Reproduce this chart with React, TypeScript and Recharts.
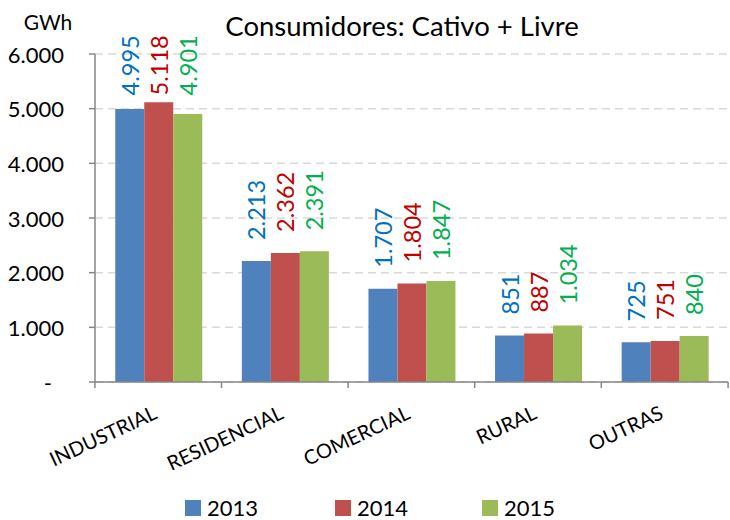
import React from 'react';
import { BarChart, Bar, XAxis, YAxis, CartesianGrid, Legend, LabelList } from 'recharts';

const categories = ['INDUSTRIAL', 'RESIDENCIAL', 'COMERCIAL', 'RURAL', 'OUTRAS'];
const values2013 = [4995, 2213, 1707, 851, 725];
const values2014 = [5118, 2362, 1804, 887, 751];
const values2015 = [4901, 2391, 1847, 1034, 840];
const yTicks = [0, 1000, 2000, 3000, 4000, 5000, 6000];
const seriesNames = ['2013', '2014', '2015'];

const data = categories.map((c, i) => ({
  name: c,
  s2013: values2013[i],
  s2014: values2014[i],
  s2015: values2015[i],
}));

const FONT = 'Lato, "Open Sans", sans-serif';
const fmt = (v: number) => (v === 0 ? '-' : v.toLocaleString('de-DE'));

const barColors = ['#4F81BD', '#C0504D', '#9BBB59'];
const labelColors = ['#0070C0', '#C00000', '#00B050'];

const makeLabel = (color: string) => (props: any) => {
  const { x, y, width, value } = props;
  const cx = x + width / 2;
  const text = fmt(value);
  const fs = 23.5;
  let estLen = 0;
  for (const ch of text) estLen += ch === '.' ? fs * 0.25 : fs * 0.58;
  let ay = y - 21;
  if (ay - estLen < 35) ay = 35 + estLen;
  return (
    <text
      x={cx}
      y={ay}
      transform={`rotate(-90, ${cx}, ${ay})`}
      textAnchor="start"
      dominantBaseline="central"
      fill={color}
      fontSize={fs}
      fontFamily={FONT}
    >
      {text}
    </text>
  );
};

const YTick = (props: any) => {
  const { x, y, payload } = props;
  const v = payload.value;
  return (
    <text
      x={v === 0 ? x - 12 : x}
      y={y}
      textAnchor="end"
      dominantBaseline="central"
      fill="#000"
      fontSize={22}
      fontFamily={FONT}
    >
      {fmt(v)}
    </text>
  );
};

const XTick = (props: any) => {
  const { x, y, payload, index } = props;
  const half = 63.4;
  const ty = y + 28;
  const tx = x;
  return (
    <g>
      <line x1={x - half} x2={x - half} y1={y - 8} y2={y - 2} stroke="#868686" strokeWidth={1.5} />
      {index === categories.length - 1 && (
        <line x1={x + half} x2={x + half} y1={y - 8} y2={y - 2} stroke="#868686" strokeWidth={1.5} />
      )}
      <text
        x={tx}
        y={ty}
        transform={`rotate(-25, ${tx}, ${ty})`}
        textAnchor="end"
        fill="#000"
        fontSize={20}
        fontFamily={FONT}
      >
        {payload.value}
      </text>
    </g>
  );
};

const legendLeft = [185, 335, 482];

const LegendContent = () => (
  <div style={{ position: 'relative', fontFamily: FONT, fontSize: 22, height: 24 }}>
    {seriesNames.map((n, i) => (
      <div
        key={n}
        style={{ display: 'flex', alignItems: 'center', position: 'absolute', left: legendLeft[i], top: 0, height: 24 }}
      >
        <div style={{ width: 16, height: 16, background: barColors[i], marginRight: 6 }} />
        <span style={{ color: '#000', lineHeight: '24px' }}>{n}</span>
      </div>
    ))}
  </div>
);

export default function App() {
  return (
    <div style={{ position: 'absolute', left: 0, top: 0, width: 730, height: 520, background: '#fff' }}>
      <BarChart
        width={730}
        height={520}
        data={data}
        margin={{ top: 54, right: 2, left: 0, bottom: 0 }}
        barCategoryGap="16%"
        barGap={0}
      >
        <text x={402} y={25} textAnchor="middle" dominantBaseline="central" fontSize={27.5} fontFamily={FONT} fill="#000">
          Consumidores: Cativo + Livre
        </text>
        <text x={48} y={21} textAnchor="middle" dominantBaseline="central" fontSize={21} fontFamily={FONT} fill="#000">
          GWh
        </text>
        <CartesianGrid vertical={false} stroke="#D9D9D9" strokeDasharray="8 5" strokeWidth={1.5} />
        <XAxis
          dataKey="name"
          height={114}
          axisLine={{ stroke: '#868686', strokeWidth: 1.5 }}
          tickLine={false}
          tick={<XTick />}
          interval={0}
        />
        <YAxis
          width={95}
          domain={[0, 6000]}
          ticks={yTicks}
          interval={0}
          axisLine={{ stroke: '#868686', strokeWidth: 1.5 }}
          tickLine={{ stroke: '#868686', strokeWidth: 1.5 }}
          tickSize={6}
          tickMargin={25}
          tick={<YTick />}
        />
        <Legend
          verticalAlign="bottom"
          align="left"
          content={<LegendContent />}
          wrapperStyle={{ height: 24, left: 0, width: 730, top: 496 }}
        />
        <Bar dataKey="s2013" name="2013" fill={barColors[0]} isAnimationActive={false}>
          <LabelList dataKey="s2013" content={makeLabel(labelColors[0])} />
        </Bar>
        <Bar dataKey="s2014" name="2014" fill={barColors[1]} isAnimationActive={false}>
          <LabelList dataKey="s2014" content={makeLabel(labelColors[1])} />
        </Bar>
        <Bar dataKey="s2015" name="2015" fill={barColors[2]} isAnimationActive={false}>
          <LabelList dataKey="s2015" content={makeLabel(labelColors[2])} />
        </Bar>
      </BarChart>
    </div>
  );
}
